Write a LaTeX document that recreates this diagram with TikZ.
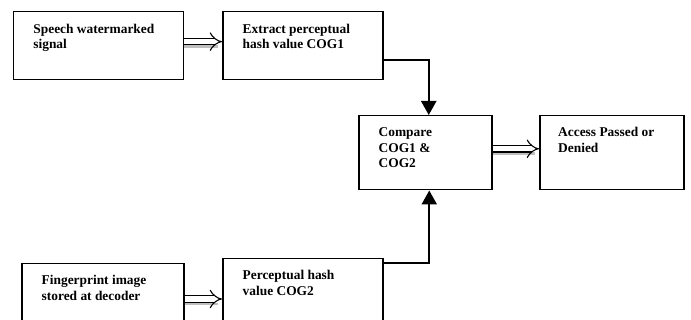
\documentclass[tikz,border=0pt]{standalone}
\usepackage{fontspec}
\setmainfont{Liberation Serif}
\usetikzlibrary{arrows.meta,positioning}

\begin{document}
\begin{tikzpicture}[x=1pt,y=-1pt,
  blk/.style={draw, line width=1.5pt, inner sep=0pt, anchor=north west},
  txt/.style={anchor=north west, align=left, inner sep=0pt, font=\fontsize{13.4}{15.5}\selectfont\bfseries},
  flow/.style={line width=2.4pt, -{Triangle[length=14pt,width=15pt]}},
  pass/.style={double, double distance=5.5pt, line width=1.1pt, -{Implies[scale=1.3]}},
  shd/.style={black!25, line width=2.5pt}]
\clip (0,0) rectangle (691,320);
% blocks
\node[blk, minimum width=170pt, minimum height=68pt] (sig) at (12.7,10.7) {};
\node[blk, minimum width=160pt, minimum height=68pt] (ext) at (222,10.7) {};
\node[blk, minimum width=133pt, minimum height=74pt] (cmp) at (358,115) {};
\node[blk, minimum width=144pt, minimum height=74pt] (acc) at (539,115) {};
\node[blk, minimum width=162pt, minimum height=80pt] (fpr) at (21,263) {};
\node[blk, minimum width=160pt, minimum height=85pt] (hsh) at (222,258) {};
% texts
\node[txt] (sigtxt) at ([xshift=20.5pt,yshift=-13pt]sig.north west) {Speech watermarked\\signal};
\node[txt] (exttxt) at ([xshift=20.5pt,yshift=-13pt]ext.north west) {Extract perceptual\\hash value COG1};
\node[txt] (cmptxt) at ([xshift=20.5pt,yshift=-12.5pt]cmp.north west) {Compare\\COG1 \&\\COG2};
\node[txt] (acctxt) at ([xshift=19pt,yshift=-12.5pt]acc.north west) {Access Passed or\\Denied};
\node[txt] (fprtxt) at ([xshift=20.5pt,yshift=-12.5pt]fpr.north west) {Fingerprint image\\stored at decoder};
\node[txt] (hshtxt) at ([xshift=20.5pt,yshift=-12.5pt]hsh.north west) {Perceptual hash\\value COG2};
% connectors
\draw[shd] ([yshift=-1pt]sig.east) -- ([xshift=-4pt,yshift=-1pt]ext.west);
\draw[pass] ([yshift=3.8pt]sig.east) -- ([yshift=3.8pt]ext.west);
\draw[shd] ([yshift=-1pt]cmp.east) -- ([xshift=-4pt,yshift=-1pt]acc.east -| acc.west);
\draw[pass] ([yshift=4pt]cmp.east) -- ([yshift=4pt]acc.west);
\draw[shd] ([yshift=-41pt]fpr.north east) -- ([xshift=-4pt,yshift=-41pt]fpr.north east -| hsh.west);
\draw[pass] ([yshift=-36pt]fpr.north east) -- ([yshift=-36pt]fpr.north east -| hsh.west);
\draw[flow] ([yshift=-14.5pt]ext.east) -| ([xshift=3.5pt]cmp.north);
\draw[flow] ([yshift=-5pt]hsh.north east) -| ([xshift=4pt]cmp.south);
\end{tikzpicture}
\end{document}
